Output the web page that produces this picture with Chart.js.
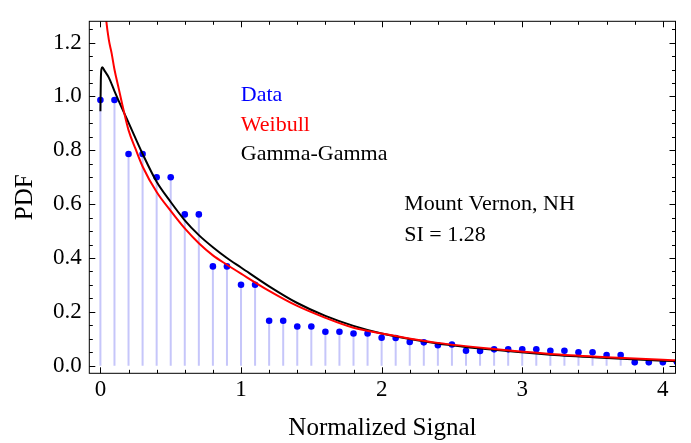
<!DOCTYPE html>
<html>
<head>
<meta charset="utf-8">
<script src="https://cdn.jsdelivr.net/npm/chart.js@4/dist/chart.umd.min.js"></script>
<style>
html,body{margin:0;padding:0;background:#fff;}
#wrap{width:691px;height:443px;position:relative;}
canvas{display:block;}
</style>
</head>
<body>
<div id="wrap"><canvas id="c" width="691" height="443" style="width:691px;height:443px;"></canvas></div>
<script>
// ---- data ----
const dataX = [0,0.1,0.2,0.3,0.4,0.5,0.6,0.7,0.8,0.9,1.0,1.1,1.2,1.3,1.4,1.5,1.6,1.7,1.8,1.9,2.0,
               2.1,2.2,2.3,2.4,2.5,2.6,2.7,2.8,2.9,3.0,3.1,3.2,3.3,3.4,3.5,3.6,3.7,3.8,3.9,4.0,4.1];
const dataY = [0.987,0.987,0.786,0.786,0.700,0.700,0.562,0.562,0.369,0.369,0.301,0.301,0.167,0.167,
               0.146,0.146,0.126,0.126,0.120,0.120,0.104,0.103,0.088,0.087,0.076,0.079,0.056,0.055,
               0.061,0.061,0.061,0.061,0.056,0.056,0.050,0.050,0.040,0.040,0.013,0.013,0.013,0.013];

const weibullX = [0.02,0.03,0.04,0.06,0.08,0.1,0.13,0.16,0.2,0.25,0.3,0.4,0.5,0.6,0.7,0.8,0.9,1.0,
                  1.2,1.4,1.6,1.8,2.0,2.4,2.8,3.2,3.6,4.0,4.1];
const weibullY = [1.44,1.36,1.29,1.21,1.16,1.10,1.03,0.96,0.875,0.805,0.74,0.645,0.575,0.51,0.455,0.41,
                  0.375,0.342,0.278,0.222,0.178,0.141,0.120,0.085,0.062,0.044,0.032,0.022,0.020];

const ggX = [0,0.003,0.007,0.014,0.03,0.06,0.1,0.15,0.2,0.3,0.4,0.5,0.6,0.7,0.8,0.9,1.0,
             1.2,1.4,1.6,1.8,2.0,2.4,2.8,3.2,3.6,4.0,4.1];
const ggY = [0.945,1.06,1.10,1.108,1.095,1.07,1.02,0.96,0.903,0.787,0.683,0.608,0.54,0.485,0.44,0.40,
             0.365,0.295,0.233,0.185,0.148,0.120,0.083,0.059,0.041,0.029,0.019,0.017];

const xTickValues = [0,1,2,3,4];
const xTickLabels = ['0','1','2','3','4'];
const yTickValues = [0,0.2,0.4,0.6,0.8,1.0,1.2];
const yTickLabels = ['0.0','0.2','0.4','0.6','0.8','1.0','1.2'];
const xMinorStep = 0.2;
const yMinorStep = 0.05;

const seriesNames = ['Data','Weibull','Gamma-Gamma'];
const annotationLines = ['Mount Vernon, NH','SI = 1.28'];
const xTitle = 'Normalized Signal';
const yTitle = 'PDF';

// ---- styles ----
const FONT = '"Liberation Serif", "Times New Roman", serif';
const BLUE = '#0000ff', RED = '#ff0000', BLACK = '#000000', STEM = '#c6c6fa';

const toPts = (xs, ys) => xs.map((v, i) => ({x: v, y: ys[i]}));

const decorPlugin = {
  id: 'decor',
  beforeDatasetsDraw(chart) {
    const {ctx, chartArea: a, scales: {x, y}} = chart;
    ctx.save();
    ctx.beginPath();
    ctx.rect(a.left, a.top, a.right - a.left, a.bottom - a.top);
    ctx.clip();
    ctx.strokeStyle = STEM;
    ctx.lineWidth = 2;
    const y0 = y.getPixelForValue(0);
    dataX.forEach((xv, i) => {
      const px = x.getPixelForValue(xv);
      ctx.beginPath();
      ctx.moveTo(px, y0);
      ctx.lineTo(px, y.getPixelForValue(dataY[i]));
      ctx.stroke();
    });
    ctx.restore();
  },
  afterDraw(chart) {
    const {ctx, chartArea: a, scales: {x, y}} = chart;
    ctx.save();
    // frame
    ctx.strokeStyle = BLACK;
    ctx.lineWidth = 1;
    ctx.strokeRect(a.left, a.top, a.right - a.left, a.bottom - a.top);
    // ticks on all four sides, pointing inward
    const MAJ = 6, MIN = 3.5;
    ctx.beginPath();
    const xMajorSet = new Set(xTickValues.map(v => v.toFixed(3)));
    for (let k = Math.ceil(x.min / xMinorStep); k * xMinorStep <= x.max + 1e-9; k++) {
      const v = k * xMinorStep;
      const len = xMajorSet.has(v.toFixed(3)) ? MAJ : MIN;
      const px = Math.round(x.getPixelForValue(v)) + 0.5;
      ctx.moveTo(px, a.bottom); ctx.lineTo(px, a.bottom - len);
      ctx.moveTo(px, a.top); ctx.lineTo(px, a.top + len);
    }
    const yMajorSet = new Set(yTickValues.map(v => v.toFixed(3)));
    for (let k = Math.ceil(y.min / yMinorStep); k * yMinorStep <= y.max + 1e-9; k++) {
      const v = k * yMinorStep;
      const len = yMajorSet.has(v.toFixed(3)) ? MAJ : MIN;
      const py = Math.round(y.getPixelForValue(v)) + 0.5;
      ctx.moveTo(a.left, py); ctx.lineTo(a.left + len, py);
      ctx.moveTo(a.right, py); ctx.lineTo(a.right - len, py);
    }
    ctx.stroke();

    // legend (coloured text only)
    ctx.font = '22px ' + FONT;
    ctx.textAlign = 'left';
    ctx.textBaseline = 'alphabetic';
    const legColors = [BLUE, RED, BLACK];
    seriesNames.forEach((t, i) => {
      ctx.fillStyle = legColors[i];
      ctx.fillText(t, a.left + 151.5, a.top + 80 + i * 29.5);
    });
    // annotation
    ctx.fillStyle = BLACK;
    annotationLines.forEach((t, i) => {
      ctx.fillText(t, a.left + 315, a.top + 188.5 + i * 31.5);
    });

    // axis titles
    ctx.font = '25px ' + FONT;
    ctx.textAlign = 'center';
    ctx.fillText(xTitle, (a.left + a.right) / 2, 435);
    ctx.save();
    ctx.translate(32, (a.top + a.bottom) / 2);
    ctx.rotate(-Math.PI / 2);
    ctx.fillText(yTitle, 0, 0);
    ctx.restore();
    ctx.restore();
  }
};

new Chart(document.getElementById('c'), {
  type: 'scatter',
  data: {
    datasets: [
      {
        label: seriesNames[1],
        data: toPts(weibullX, weibullY),
        showLine: true,
        borderColor: RED,
        borderWidth: 2,
        pointRadius: 0,
        cubicInterpolationMode: 'monotone',
        clip: 0
      },
      {
        label: seriesNames[2],
        data: toPts(ggX, ggY),
        showLine: true,
        borderColor: BLACK,
        borderWidth: 2,
        pointRadius: 0,
        cubicInterpolationMode: 'monotone',
        clip: 0
      },
      {
        label: seriesNames[0],
        data: toPts(dataX, dataY),
        showLine: false,
        backgroundColor: BLUE,
        borderWidth: 0,
        pointRadius: 3.3,
        clip: 0
      }
    ]
  },
  options: {
    responsive: false,
    maintainAspectRatio: false,
    animation: false,
    devicePixelRatio: 1,
    layout: {padding: {left: 0, right: 15.5, top: 11.7, bottom: 0}},
    plugins: {legend: {display: false}, tooltip: {enabled: false}},
    scales: {
      x: {
        type: 'linear',
        min: -0.079,
        max: 4.09,
        grid: {display: false, drawTicks: false},
        border: {display: false},
        afterFit: s => { s.height = 69.7; },
        afterBuildTicks: s => { s.ticks = xTickValues.map(v => ({value: v})); },
        ticks: {
          callback: (v, i) => xTickLabels[i],
          font: {family: FONT, size: 23},
          color: BLACK,
          padding: 2.5,
          maxRotation: 0,
          autoSkip: false
        }
      },
      y: {
        type: 'linear',
        min: -0.028,
        max: 1.279,
        grid: {display: false, drawTicks: false},
        border: {display: false},
        afterFit: s => { s.width = 89.3; },
        afterBuildTicks: s => { s.ticks = yTickValues.map(v => ({value: v})); },
        ticks: {
          callback: (v, i) => yTickLabels[i],
          font: {family: FONT, size: 23},
          color: BLACK,
          padding: 7.5,
          autoSkip: false
        }
      }
    }
  },
  plugins: [decorPlugin]
});
</script>
</body>
</html>
